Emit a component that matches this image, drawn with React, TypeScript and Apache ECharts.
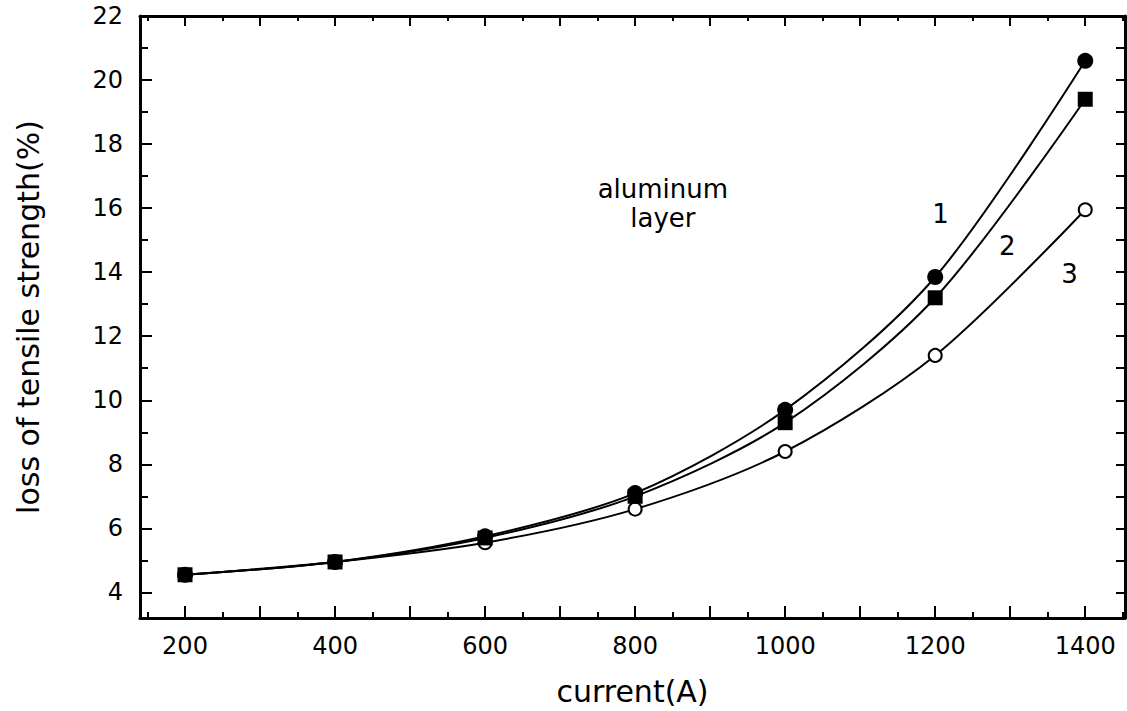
import React, { useEffect, useRef } from "react";
import * as echarts from "echarts";

const currents = [200, 400, 600, 800, 1000, 1200, 1400];
const series1 = [4.55, 4.95, 5.75, 7.1, 9.7, 13.85, 20.6];
const series2 = [4.55, 4.95, 5.7, 7.0, 9.3, 13.2, 19.4];
const series3 = [4.55, 4.95, 5.55, 6.6, 8.4, 11.4, 15.95];

const xLabelValues = [200, 400, 600, 800, 1000, 1200, 1400];
const xMajorTicks = [200, 300, 400, 500, 600, 700, 800, 900, 1000, 1100, 1200, 1300, 1400];
const xMinorTicks = [150, 250, 350, 450, 550, 650, 750, 850, 950, 1050, 1150, 1250, 1350, 1450];
const yLabelValues = [4, 6, 8, 10, 12, 14, 16, 18, 20, 22];
const yMinorTicks = [5, 7, 9, 11, 13, 15, 17, 19, 21];
const yRightTicks = [4, 5, 6, 7, 8, 9, 10, 11, 12, 13, 14, 15, 16, 17, 18, 19, 20, 21];

const curveLabels = [
  { name: "1", value: [1207, 15.82] },
  { name: "2", value: [1296, 14.82] },
  { name: "3", value: [1379, 13.95] },
];
const noteLabel = { name: "aluminum\nlayer", value: [837, 16.15] };

const X_MIN = 140;
const X_MAX = 1453;
const Y_MIN = 3.2;
const Y_MAX = 22;

const FONT = "DejaVu Sans";

export default function App() {
  const ref = useRef<HTMLDivElement>(null);
  useEffect(() => {
    if (!ref.current) return;
    const chart = echarts.init(ref.current, undefined, { renderer: "svg" });
    const lineAxis = { show: true, lineStyle: { color: "#000", width: 3 } };
    const noLine = { show: false };
    const baseX = { type: "value", min: X_MIN, max: X_MAX, splitLine: { show: false } };
    const baseY = { type: "value", min: Y_MIN, max: Y_MAX, splitLine: { show: false } };
    const mk = (data: number[], name: string, symbol: string, size: number, filled: boolean, z: number) => ({
      type: "line",
      name,
      data: data.map((v, i) => [currents[i], v]),
      smooth: 0.3,
      symbol,
      symbolSize: size,
      z,
      lineStyle: { color: "#000", width: 2 },
      itemStyle: filled
        ? { color: "#000", borderColor: "#000", borderWidth: 0 }
        : { color: "#fff", borderColor: "#000", borderWidth: 2 },
      xAxisIndex: 0,
      yAxisIndex: 0,
    });
    const textLabel = (size: number, lh?: number) => ({
      show: true,
      position: "inside",
      formatter: "{b}",
      fontFamily: FONT,
      fontSize: size,
      lineHeight: lh,
      align: "center",
      color: "#000",
      opacity: 1,
      textBorderWidth: 0,
    });
    chart.setOption({
      animation: false,
      backgroundColor: "#fff",
      grid: { left: 140, right: 2, top: 16, bottom: 90 },
      xAxis: [
        {
          ...baseX,
          position: "bottom",
          axisLine: lineAxis,
          axisTick: { show: true, inside: true, length: 12, customValues: xMajorTicks, lineStyle: { color: "#000", width: 2 } },
          axisLabel: {
            show: true,
            customValues: xLabelValues,
            formatter: (v: number) => String(v),
            fontFamily: FONT,
            fontSize: 24,
            color: "#000",
            margin: 16,
          },
          name: "current(A)",
          nameLocation: "middle",
          nameGap: 58,
          nameTextStyle: { fontFamily: FONT, fontSize: 30, color: "#000" },
        },
        {
          ...baseX,
          position: "bottom",
          axisLine: noLine,
          axisTick: { show: true, inside: true, length: 6, customValues: xMinorTicks, lineStyle: { color: "#000", width: 2 } },
          axisLabel: { show: false },
        },
        {
          ...baseX,
          position: "top",
          axisLine: lineAxis,
          axisTick: { show: true, inside: true, length: 10, customValues: xMajorTicks, lineStyle: { color: "#000", width: 2 } },
          axisLabel: { show: false },
        },
        {
          ...baseX,
          position: "top",
          axisLine: noLine,
          axisTick: { show: true, inside: true, length: 5, customValues: xMinorTicks, lineStyle: { color: "#000", width: 2 } },
          axisLabel: { show: false },
        },
      ],
      yAxis: [
        {
          ...baseY,
          position: "left",
          axisLine: lineAxis,
          axisTick: { show: true, inside: true, length: 12, customValues: yLabelValues, lineStyle: { color: "#000", width: 2 } },
          axisLabel: {
            show: true,
            customValues: yLabelValues,
            formatter: (v: number) => String(v),
            fontFamily: FONT,
            fontSize: 24,
            color: "#000",
            margin: 17,
          },
          name: "loss of tensile strength(%)",
          nameLocation: "middle",
          nameGap: 97,
          nameTextStyle: { fontFamily: FONT, fontSize: 30, color: "#000" },
        },
        {
          ...baseY,
          position: "left",
          axisLine: noLine,
          axisTick: { show: true, inside: true, length: 8, customValues: yMinorTicks, lineStyle: { color: "#000", width: 2 } },
          axisLabel: { show: false },
        },
        {
          ...baseY,
          position: "right",
          axisLine: lineAxis,
          axisTick: { show: true, inside: true, length: 9, customValues: yRightTicks, lineStyle: { color: "#000", width: 2 } },
          axisLabel: { show: false },
        },
      ],
      series: [
        mk(series3, "3", "circle", 13, false, 3),
        mk(series1, "1", "circle", 16, true, 4),
        mk(series2, "2", "rect", 15, true, 5),
        {
          type: "scatter",
          silent: true,
          xAxisIndex: 0,
          yAxisIndex: 0,
          symbolSize: 1,
          itemStyle: { opacity: 0 },
          label: textLabel(26),
          data: curveLabels,
        },
        {
          type: "scatter",
          silent: true,
          xAxisIndex: 0,
          yAxisIndex: 0,
          symbolSize: 1,
          itemStyle: { opacity: 0 },
          label: textLabel(26, 29),
          data: [noteLabel],
        },
      ],
    });
    return () => chart.dispose();
  }, []);
  return <div ref={ref} style={{ width: 1127, height: 711, position: "absolute", left: 0, top: 0 }} />;
}
